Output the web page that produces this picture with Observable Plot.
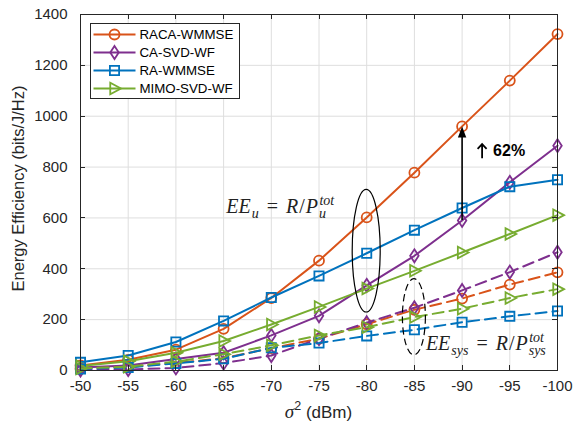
<!DOCTYPE html>
<html>
<head>
<meta charset="utf-8">
<script src="https://cdn.jsdelivr.net/npm/d3@7"></script>
<script src="https://cdn.jsdelivr.net/npm/@observablehq/plot@0.6"></script>
<style>
  body { margin: 0; background: #fff; }
  #chart svg { display: block; }
</style>
</head>
<body>
<div id="chart"></div>
<script>
// Noise power sweep (dBm) and y-axis ticks
const noise = [-50, -55, -60, -65, -70, -75, -80, -85, -90, -95, -100];
const yTicks = [0, 200, 400, 600, 800, 1000, 1200, 1400];

// User-side energy efficiency EE_u (solid lines)
const racaUser = [20, 42, 82, 164, 285, 432, 602, 778, 960, 1140, 1323];
const caUser   = [12, 20, 45, 70, 138, 215, 335, 451, 590, 740, 884];
const raUser   = [32, 59, 112, 195, 287, 372, 461, 552, 639, 723, 750];
const mimoUser = [18, 36, 70, 116, 181, 250, 322, 392, 464, 537, 611];

// System energy efficiency EE_sys (dashed lines)
const racaSys = [7, 14, 30, 48, 88, 125, 182, 239, 283, 338, 386];
const caSys   = [2, 4, 10, 29, 59, 125, 188, 247, 315, 387, 465];
const raSys   = [6, 12, 28, 46, 89, 108, 136, 160, 190, 213, 234];
const mimoSys = [8, 15, 35, 64, 99, 138, 170, 210, 243, 285, 320];

const schemes = ["RACA-WMMSE", "CA-SVD-WF", "RA-WMMSE", "MIMO-SVD-WF"];
const colors  = ["#D95319", "#7E2F8E", "#0072BD", "#77AC30"];
const userSeries = [racaUser, caUser, raUser, mimoUser];
const sysSeries  = [racaSys, caSys, raSys, mimoSys];

// Gain annotation: CA-SVD-WF -> RACA-WMMSE at -90 dBm
const gainAt = -90;
const gainLabel = "62%";

const axisColor = "#262626";
const sans = '"Liberation Sans", Arial, Helvetica, sans-serif';
const serif = '"Liberation Serif", "Times New Roman", serif';
const plain = String; // hyphen-minus tick labels, no thousands separator

// Hollow marker shapes (size = pi * r^2, as used by Plot.dot)
const ring = {draw(c, size) { const r = Math.sqrt(size / Math.PI); c.moveTo(r, 0); c.arc(0, 0, r, 0, 2 * Math.PI); }};
const box = {draw(c, size) { const h = Math.sqrt(size / Math.PI) * 0.92; c.rect(-h, -h, 2 * h, 2 * h); }};
const rhomb = {draw(c, size) { const r = Math.sqrt(size / Math.PI); const a = r * 1.3, b = r * 0.85;
  c.moveTo(0, -a); c.lineTo(b, 0); c.lineTo(0, a); c.lineTo(-b, 0); c.closePath(); }};
const wedge = {draw(c, size) { const r = Math.sqrt(size / Math.PI);
  c.moveTo(r * 1.3, 0); c.lineTo(-r * 0.85, -r * 1.15); c.lineTo(-r * 0.85, r * 1.15); c.closePath(); }};
const markers = [ring, rhomb, box, wedge];
const arrowHead = {draw(c) { c.moveTo(0, 0); c.lineTo(4.2, 11); c.lineTo(-4.2, 11); c.closePath(); }};
const smallArrow = {draw(c) { c.moveTo(0, -7); c.lineTo(0, 7); c.moveTo(-4.5, -2.5); c.lineTo(0, -7.2); c.lineTo(4.5, -2.5); }};

function rowsOf(values) { return noise.map((n, i) => ({noise: n, ee: values[i]})); }

const seriesMarks = [];
[["user", userSeries, null], ["sys", sysSeries, "11,6"]].forEach(([kind, all, dash]) => {
  all.forEach((vals, i) => {
    const rows = rowsOf(vals);
    seriesMarks.push(Plot.line(rows, {x: "noise", y: "ee", stroke: colors[i], strokeWidth: 2, strokeDasharray: dash}));
    seriesMarks.push(Plot.dot(rows, {x: "noise", y: "ee", stroke: colors[i], fill: "none", r: 5, strokeWidth: 1.8, symbol: markers[i]}));
  });
});

// MATLAB-style inward ticks on all four sides
function innerTicks(index, scales, values, dims) {
  const {x, y} = scales;
  const L = dims.marginLeft, R = dims.width - dims.marginRight;
  const T = dims.marginTop, B = dims.height - dims.marginBottom;
  const g = d3.create("svg:g").attr("stroke", axisColor).attr("stroke-width", 1);
  for (const t of noise) {
    const px = Math.round(x(t)) + 0.5;
    g.append("line").attr("x1", px).attr("x2", px).attr("y1", B).attr("y2", B - 5);
    g.append("line").attr("x1", px).attr("x2", px).attr("y1", T).attr("y2", T + 5);
  }
  for (const t of yTicks) {
    const py = Math.round(y(t)) + 0.5;
    g.append("line").attr("x1", L).attr("x2", L + 5).attr("y1", py).attr("y2", py);
    g.append("line").attr("x1", R).attr("x2", R - 5).attr("y1", py).attr("y2", py);
  }
  return g.node();
}

// Ellipses grouping the EE_u and EE_sys points
const groups = [
  {x: -80, y0: 228, y1: 710, rx: 14, dash: null},
  {x: -85, y0: 59, y1: 359, rx: 11.5, dash: "7,4"}
];
function ellipses(index, scales) {
  const {x, y} = scales;
  const g = d3.create("svg:g").attr("fill", "none").attr("stroke", "#000").attr("stroke-width", 1.2);
  for (const e of groups) {
    g.append("ellipse")
      .attr("cx", x(e.x)).attr("cy", (y(e.y0) + y(e.y1)) / 2)
      .attr("rx", e.rx).attr("ry", Math.abs(y(e.y0) - y(e.y1)) / 2)
      .attr("stroke-dasharray", e.dash);
  }
  return g.node();
}

// Formula labels: EE_u = R/P_u^tot, EE_sys = R/P_sys^tot
const formulas = [
  {x: -80, y: 619, dx: -140, idx: "u"},
  {x: -85, y: 79, dx: 12, idx: "sys"}
];
const measureCtx = document.createElement("canvas").getContext("2d");
function textWidth(t, font) { measureCtx.font = font; return measureCtx.measureText(t).width; }
function formulaLabels(index, scales) {
  const {x, y} = scales;
  const g = d3.create("svg:g").attr("fill", "#222").attr("font-family", serif).attr("text-anchor", "start");
  const big = 20, small = 14;
  const fBig = `italic ${big}px ${serif}`, fSmall = `italic ${small}px ${serif}`, fUp = `${big}px ${serif}`;
  for (const f of formulas) {
    let cx = x(f.x) + f.dx;
    const by = y(f.y);
    const put = (t, px, dy, size, italic) => g.append("text").attr("x", px).attr("y", by + dy)
      .attr("font-size", size).attr("font-style", italic ? "italic" : "normal").text(t);
    put("EE", cx, 0, big, true); cx += textWidth("EE", fBig) + 1;
    put(f.idx, cx, 5, small, true); cx += textWidth(f.idx, fSmall) + 8;
    put("=", cx, 0, big, false); cx += textWidth("=", fUp) + 8;
    put("R", cx, 0, big, true); cx += textWidth("R", fBig) + 1;
    put("/", cx, 0, big, false); cx += textWidth("/", fUp) + 1;
    put("P", cx, 0, big, true); cx += textWidth("P", fBig) + 1;
    put(f.idx, cx, 5, small, true);
    put("tot", cx + 0.5, -8, small, true);
  }
  return g.node();
}

// Legend box in the upper-left corner of the axes
function legend(index, scales, values, dims) {
  const x0 = dims.marginLeft + 10.5, y0 = dims.marginTop + 9.5;
  const g = d3.create("svg:g").attr("text-anchor", "start");
  g.append("rect").attr("x", x0).attr("y", y0).attr("width", 149).attr("height", 75)
    .attr("fill", "#fff").attr("stroke", axisColor).attr("stroke-width", 1);
  schemes.forEach((name, i) => {
    const cy = y0 + 11 + i * 18;
    g.append("line").attr("x1", x0 + 3).attr("x2", x0 + 45).attr("y1", cy).attr("y2", cy)
      .attr("stroke", colors[i]).attr("stroke-width", 2);
    g.append("path").attr("transform", `translate(${x0 + 24},${cy})`)
      .attr("d", d3.symbol(markers[i], Math.PI * 25)())
      .attr("fill", "none").attr("stroke", colors[i]).attr("stroke-width", 1.8);
    g.append("text").attr("x", x0 + 49).attr("y", cy).attr("dy", "0.36em")
      .attr("font-family", sans).attr("font-size", 13.3).attr("fill", "#000").text(name);
  });
  return g.node();
}

// x-axis title with italic sigma and superscript
function xTitle(index, scales, values, dims) {
  const cx = (dims.marginLeft + dims.width - dims.marginRight) / 2;
  const t = d3.create("svg:text").attr("x", cx).attr("y", dims.height - 10)
    .attr("text-anchor", "middle").attr("fill", axisColor).attr("font-family", sans).attr("font-size", 17);
  t.append("tspan").attr("font-family", serif).attr("font-style", "italic").attr("font-size", 19).text("\u03c3");
  t.append("tspan").attr("dy", -8).attr("font-size", 12.5).text("2");
  t.append("tspan").attr("dy", 8).text(" (dBm)");
  return t.node();
}

const gainIdx = noise.indexOf(gainAt);

const chart = Plot.plot({
  width: 576,
  height: 428,
  marginLeft: 80,
  marginRight: 19,
  marginTop: 14,
  marginBottom: 58,
  style: {fontFamily: sans, fontSize: "15px", color: axisColor, background: "#fff"},
  x: {domain: [-50, -100]},
  y: {domain: [0, 1400]},
  marks: [
    Plot.gridX(noise, {stroke: "#dedede", strokeOpacity: 1, strokeWidth: 1}),
    Plot.gridY(yTicks, {stroke: "#dedede", strokeOpacity: 1, strokeWidth: 1}),
    Plot.axisX(noise, {tickSize: 0, tickPadding: 10, label: null, fontSize: 15, tickFormat: plain}),
    Plot.axisY(yTicks, {tickSize: 0, tickPadding: 13, label: null, fontSize: 15, tickFormat: plain}),
    ...seriesMarks,
    ellipses,
    formulaLabels,
    Plot.ruleX([gainAt], {y1: caUser[gainIdx], y2: racaUser[gainIdx] - 40, stroke: "#000", strokeWidth: 1.6}),
    Plot.dot([gainAt], {x: d => d, y: racaUser[gainIdx], symbol: arrowHead, fill: "#000", stroke: "none", r: 5}),
    Plot.dot([gainAt], {x: d => d, y: 862, dx: 20, symbol: smallArrow, fill: "none", stroke: "#000", strokeWidth: 1.8, r: 5}),
    Plot.text([gainLabel], {x: gainAt, y: 862, dx: 31, text: d => d, textAnchor: "start", fontWeight: "bold", fontSize: 16, fill: "#000", fontFamily: sans}),
    Plot.frame({stroke: axisColor, strokeWidth: 1}),
    innerTicks,
    legend,
    Plot.text(["Energy Efficiency (bits/J/Hz)"], {frameAnchor: "left", rotate: -90, dx: -62, dy: -4, textAnchor: "middle", text: d => d, fontSize: 16.5, fill: axisColor}),
    xTitle
  ]
});

document.getElementById("chart").appendChild(chart);
</script>
</body>
</html>
